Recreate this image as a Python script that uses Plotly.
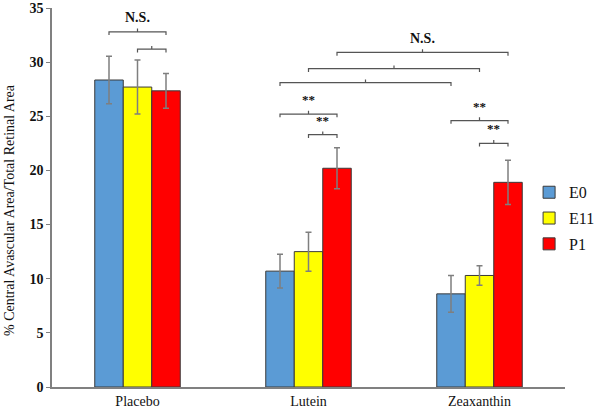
import plotly.graph_objects as go

categories = ["Placebo", "Lutein", "Zeaxanthin"]
series_names = ["E0", "E11", "P1"]
E0 = [28.35, 10.7, 8.6]
E11 = [27.7, 12.5, 10.3]
P1 = [27.35, 20.2, 18.9]
E0_err = [2.2, 1.55, 1.7]
E11_err = [2.5, 1.8, 0.9]
P1_err = [1.6, 1.9, 2.05]
colors = ["#5B9BD5", "#FFFF00", "#FF0000"]
y_title = "% Central Avascular Area/Total Retinal Area"

# significance brackets: (group_a, series_a, group_b, series_b, y, label)
brackets = [
    (0, 0, 0, 2, 32.8, "N.S."),
    (0, 1, 0, 2, 31.2, ""),
    (1, 2, 2, 2, 30.9, "N.S."),
    (1, 1, 2, 1, 29.4, ""),
    (1, 0, 2, 0, 28.1, ""),
    (1, 0, 1, 2, 25.2, "**"),
    (1, 1, 1, 2, 23.3, "**"),
    (2, 0, 2, 2, 24.6, "**"),
    (2, 1, 2, 2, 22.5, "**"),
]

font_family = "Liberation Serif"
fig = go.Figure()
for name, vals, errs, col in zip(series_names, [E0, E11, P1], [E0_err, E11_err, P1_err], colors):
    fig.add_trace(go.Bar(
        x=categories, y=vals, name=name, legendgroup=name,
        marker=dict(color=col, line=dict(color="#3a3a3a", width=1)),
        error_y=dict(type="data", array=errs, color="#7f7f7f", thickness=1.5, width=3),
    ))

bar_w = 0.5 / 3
def xpos(g, s):
    return g + (s - 1) * bar_w

for ga, sa, gb, sb, y, label in brackets:
    x0 = xpos(ga, sa)
    x1 = xpos(gb, sb)
    xm = (x0 + x1) / 2
    path = f"M {x0},{y-0.3} L {x0},{y} L {x1},{y} L {x1},{y-0.3} M {xm},{y} L {xm},{y+0.3}"
    fig.add_shape(type="path", path=path, xref="x", yref="y",
                  line=dict(color="#555555", width=1.2))
    if label:
        fig.add_annotation(x=xm, y=y + 0.45, text=f"<b>{label}</b>", showarrow=False,
                           yanchor="bottom", xref="x", yref="y",
                           font=dict(family=font_family, size=14 if label == "N.S." else 13, color="#111111"))

fig.add_annotation(x=0, y=0.467, xref="paper", yref="paper", xshift=-43,
                   text=y_title, textangle=-90, showarrow=False,
                   xanchor="center", yanchor="middle",
                   font=dict(family=font_family, size=14, color="#111111"))

fig.update_layout(
    width=600, height=413,
    margin=dict(l=52, r=35, t=8, b=26, autoexpand=False),
    plot_bgcolor="white", paper_bgcolor="white",
    barmode="group", bargap=0.5, bargroupgap=0,
    font=dict(family=font_family, size=14, color="#111111"),
    showlegend=True,
    legend=dict(x=0.93, y=0.445, xanchor="left", yanchor="middle",
                font=dict(family=font_family, size=16, color="#111111"),
                tracegroupgap=2, bgcolor="rgba(0,0,0,0)", itemwidth=30),
)
fig.update_xaxes(
    range=[-0.5, 2.5], showline=True, linecolor="#808080", linewidth=1.5,
    ticks="", showgrid=False, tickfont=dict(family=font_family, size=14),
)
fig.update_yaxes(
    range=[0, 35], dtick=5, showline=True, linecolor="#808080", linewidth=1.5,
    ticks="outside", ticklen=4, tickcolor="#808080", showgrid=False, zeroline=False,
    tickfont=dict(family=font_family, size=14, weight="bold"),
)
fig.write_html("out.html", config={"displayModeBar": False},
               post_script="document.body.style.margin='0';document.body.style.overflow='hidden';")
